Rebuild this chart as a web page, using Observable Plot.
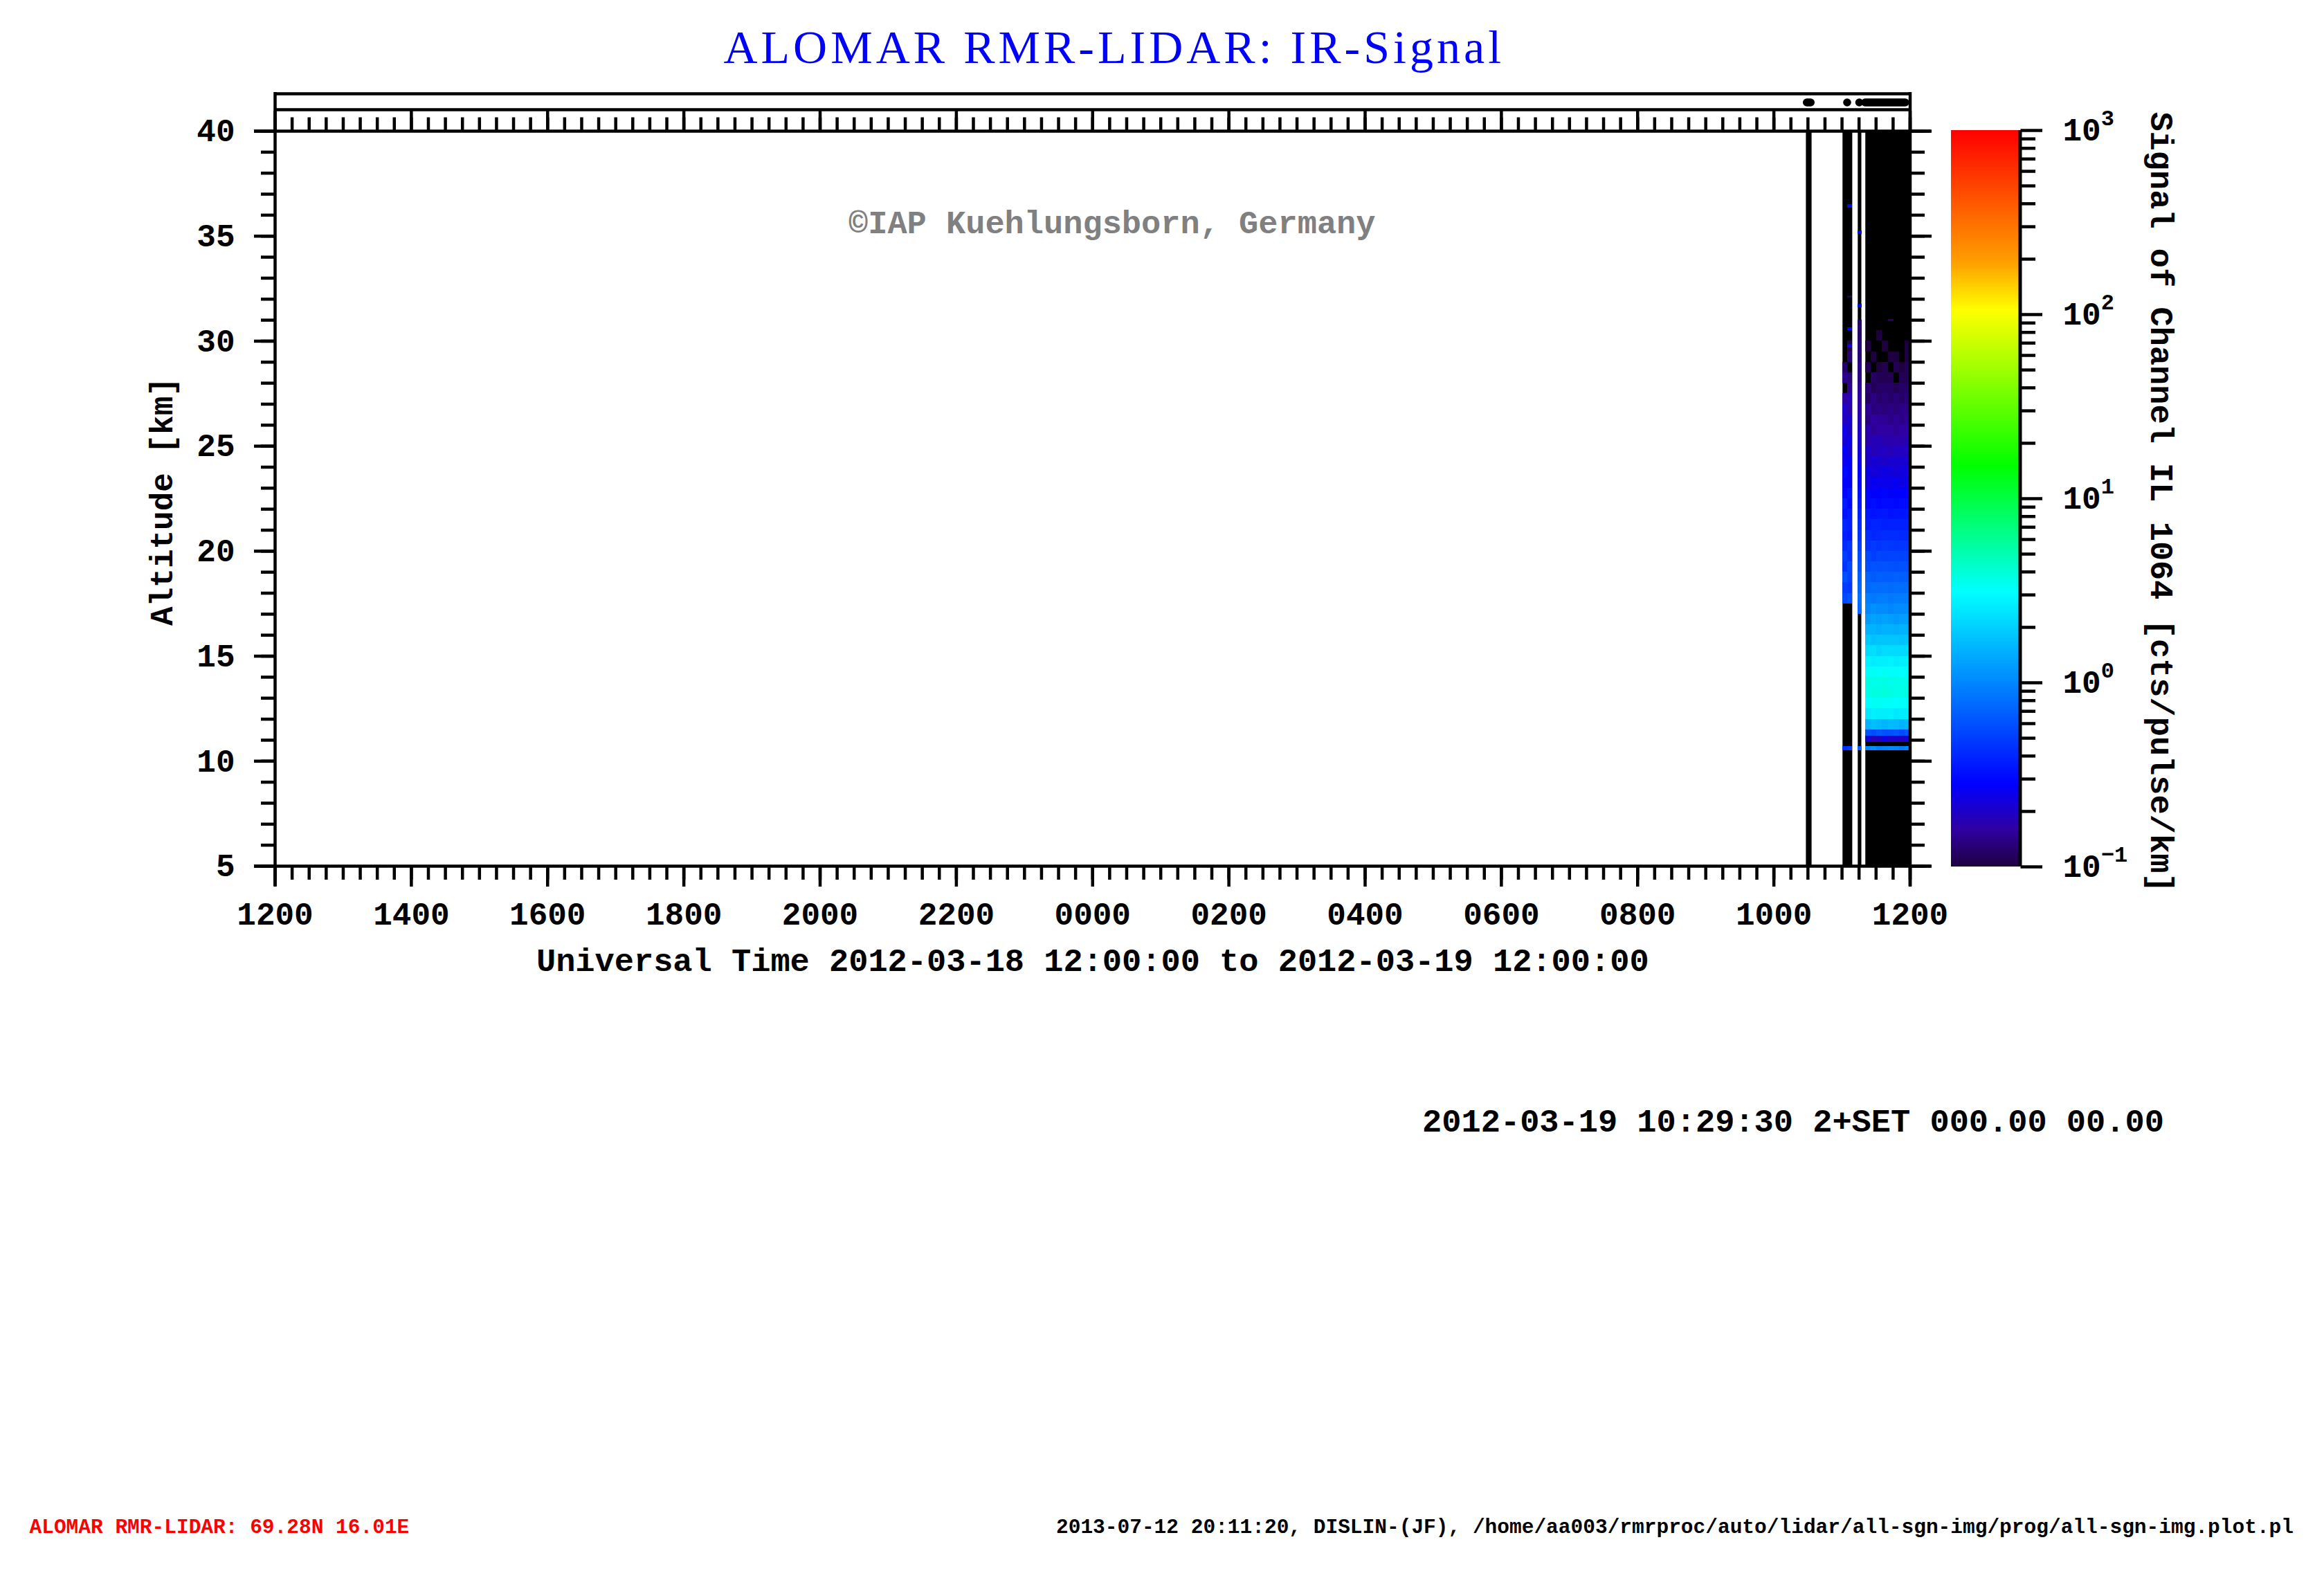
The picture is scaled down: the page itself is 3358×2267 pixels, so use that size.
<!DOCTYPE html>
<html><head><meta charset="utf-8">
<script src="https://cdn.jsdelivr.net/npm/d3@7"></script>
<script src="https://cdn.jsdelivr.net/npm/@observablehq/plot@0.6"></script>
<style>
html,body{margin:0;padding:0;background:#fff;overflow:hidden;}
#wrap{position:relative;width:3358px;height:2267px;overflow:hidden;background:#fff;}
#main{position:absolute;left:0;top:0;}
#cbar{position:absolute;left:2819px;top:148px;}
</style></head><body><div id="wrap"><div id="main"></div><div id="cbar"></div></div>
<script>
// ---------------- data ----------------
const timeStart = "2012-03-18T12:00:00Z", timeEnd = "2012-03-19T12:00:00Z";
const altMin = 5, altMax = 40;
const altTicksMajor = [5, 10, 15, 20, 25, 30, 35, 40];
const altTicksMinor = d3.range(5, 41, 1);

// measurement periods (black background)
const periodFrom = ["2012-03-19T10:28:30Z", "2012-03-19T11:00:45Z", "2012-03-19T11:14:10Z", "2012-03-19T11:20:50Z"];
const periodTo   = ["2012-03-19T10:33:30Z", "2012-03-19T11:09:20Z", "2012-03-19T11:17:20Z", "2012-03-19T12:00:00Z"];

// markers in the top strip
const stripFrom = ["2012-03-19T10:29:20Z", "2012-03-19T11:04:50Z", "2012-03-19T11:15:30Z", "2012-03-19T11:20:40Z"];
const stripTo   = ["2012-03-19T10:32:40Z", "2012-03-19T11:04:50Z", "2012-03-19T11:15:30Z", "2012-03-19T11:56:00Z"];

// altitude bin edges [km]
const altEdges = [10.5, 10.7, 10.9, 11.2, 11.5, 12, 12.5, 13, 13.5, 14, 14.5, 15, 15.5, 16, 16.5, 17, 17.5, 18, 18.5, 19, 19.5, 20,
  20.5, 21, 21.5, 22, 22.5, 23, 23.5, 24, 24.5, 25, 25.5, 26, 26.5, 27, 27.5, 28, 28.5, 29, 29.5, 30, 30.5, 31];

// profiles (time intervals)
const profileFrom = ["2012-03-19T11:00:45Z", "2012-03-19T11:05:00Z", "2012-03-19T11:14:10Z", "2012-03-19T11:20:50Z", "2012-03-19T11:25:45Z",
  "2012-03-19T11:30:40Z", "2012-03-19T11:35:35Z", "2012-03-19T11:40:30Z", "2012-03-19T11:45:25Z", "2012-03-19T11:50:20Z", "2012-03-19T11:55:10Z"];
const profileTo = ["2012-03-19T11:05:00Z", "2012-03-19T11:09:20Z", "2012-03-19T11:17:20Z", "2012-03-19T11:25:45Z", "2012-03-19T11:30:40Z",
  "2012-03-19T11:35:35Z", "2012-03-19T11:40:30Z", "2012-03-19T11:45:25Z", "2012-03-19T11:50:20Z", "2012-03-19T11:55:10Z", "2012-03-19T12:00:00Z"];

// signal [cts/pulse/km] per altitude bin (null = no signal)
const _ = null;
const profB1 = [0.45, _,_,_,_,_, _,_,_,_,_, _,_,_,_,_, 0.55,0.5,0.6,0.45,0.5, 0.42,0.38,0.4,0.33,0.36, 0.3,0.28,0.3,0.25,0.27, 0.22,0.24,0.19,0.2,0.16, _,0.14,0.12,_,_, _,_];
const profB2 = [0.5, _,_,_,_,_, _,_,_,_,_, _,_,_,_,_, 0.6,0.48,0.52,0.55,0.44, 0.46,0.35,0.37,0.36,0.3, 0.33,0.26,0.27,0.28,0.22, 0.25,0.2,0.21,0.17,0.18, 0.15,0.13,_,0.13,0.11, _,_];
const profC1 = [0.7, _,_,_,_,_, _,_,_,_,_, _,_,_,_, 0.75, 0.8,0.72,0.68,0.6,0.56, 0.5,0.45,0.42,0.38,0.35, 0.32,0.3,0.27,0.25,0.23, 0.21,0.2,0.18,0.17,0.16, 0.15,0.14,0.14,0.13,0.13, 0.12,0.12];
const profD1 = [1.0,_,0.22,0.62,1.5, 2.5,3.1,3.6,3.7,3.2, 2.8,2.2,1.85,1.5,1.2, 1.0,0.92,0.76,0.7,0.58, 0.55,0.45,0.43,0.36,0.35, 0.3,0.29,0.24,0.24,0.2, 0.2,0.17,0.17,0.14,0.15, 0.12,0.13,_,0.11,_, 0.1,_,_];
const profD2 = [1.1,_,0.18,0.58,1.7, 2.7,3.3,3.8,3.5,3.3, 2.6,2.3,1.75,1.55,1.3, 1.1,0.88,0.8,0.66,0.62, 0.5,0.49,0.4,0.39,0.33, 0.32,0.27,0.26,0.22,0.22, 0.18,0.18,0.15,0.16,0.13, 0.14,0.11,0.12,_,0.1, _,_,_];
const profD3 = [0.95,_,0.2,0.65,1.6, 2.6,3.3,3.7,3.6,3.1, 2.7,2.1,1.8,1.45,1.25, 1.05,0.9,0.78,0.69,0.6, 0.54,0.46,0.41,0.39,0.34, 0.3,0.28,0.25,0.23,0.21, 0.19,0.18,0.16,0.15,0.14, 0.12,0.12,0.11,0.1,_, _,0.1,_];
const profD4 = [1.0,_,0.24,0.6,1.55, 2.6,3.2,3.9,3.7,3.3, 2.7,2.25,1.8,1.5,1.3, 1.05,0.92,0.8,0.67,0.61, 0.52,0.48,0.43,0.37,0.35, 0.31,0.29,0.25,0.24,0.2, 0.19,0.17,0.16,0.15,0.13, 0.13,0.12,0.11,0.11,_, 0.1,_,_];
const profD5 = [1.05,_,0.2,0.6,1.65, 2.7,3.2,3.7,3.5,3.2, 2.8,2.2,1.8,1.5,1.25, 1.0,0.88,0.77,0.68,0.6, 0.53,0.47,0.42,0.38,0.33, 0.31,0.27,0.25,0.23,0.21, 0.18,0.17,0.16,0.14,0.14, 0.12,0.12,0.11,_,0.1, _,_,_];
const profD6 = [1.0,_,0.21,0.63,1.6, 2.5,3.1,3.6,3.6,3.2, 2.6,2.2,1.8,1.45,1.2, 1.05,0.9,0.79,0.7,0.59, 0.53,0.46,0.42,0.38,0.34, 0.3,0.28,0.26,0.22,0.21, 0.19,0.17,0.15,0.15,0.13, 0.13,0.11,_,0.11,0.1, _,_,_];
const profD7 = [0.9,_,0.19,0.57,1.5, 2.6,3.2,3.6,3.5,3.1, 2.7,2.2,1.75,1.5,1.25, 1.05,0.9,0.78,0.68,0.6, 0.52,0.47,0.41,0.38,0.34, 0.31,0.28,0.24,0.23,0.21, 0.19,0.17,0.16,0.14,0.14, 0.12,0.12,0.11,0.1,_, _,_,_];
const profD8 = [1.0,_,0.22,0.6,1.6, 2.6,3.2,3.7,3.6,3.2, 2.7,2.2,1.8,1.5,1.25, 1.05,0.9,0.78,0.68,0.6, 0.53,0.47,0.42,0.38,0.34, 0.31,0.28,0.25,0.23,0.21, 0.19,0.175,0.16,0.15,0.14, 0.13,0.12,0.11,0.11,0.1, 0.1,_,_];
const profiles = [profB1, profB2, profC1, profD1, profD2, profD3, profD4, profD5, profD6, profD7, profD8];

// isolated returns (profile index, altitude range, value)
const speckleProfile = [1, 1, 1, 1, 2, 2, 7];
const speckleAltLo = [36.35, 32.05, 30.5, 29.7, 35.1, 31.6, 30.95];
const speckleAltHi = [36.5, 32.15, 30.65, 29.85, 35.25, 31.75, 31.05];
const speckleValue = [0.3, 0.11, 0.3, 0.25, 0.3, 0.28, 0.12];

// colour scale
const colorDomain = [0.1, 0.158, 0.28, 3.1, 15, 105, 190, 1000];
const colorRange = ["#1e0040", "#3000a0", "#0000ff", "#00ffff", "#00ff00", "#ffff00", "#ffa000", "#ff0000"];
const colorTicks = [0.1, 1, 10, 100, 1000];

// texts
const titleText = "ALOMAR RMR-LIDAR: IR-Signal";
const copyText = "©IAP Kuehlungsborn, Germany";
const yTitle = "Altitude [km]";
const xTitle = "Universal Time 2012-03-18 12:00:00 to 2012-03-19 12:00:00";
const cTitle = "Signal of Channel IL 1064 [cts/pulse/km]";
const noteText = "2012-03-19 10:29:30 2+SET 000.00 00.00";
const footLeft = "ALOMAR RMR-LIDAR: 69.28N 16.01E";
const footRight = "2013-07-12 20:11:20, DISLIN-(JF), /home/aa003/rmrproc/auto/lidar/all-sgn-img/prog/all-sgn-img.plot.pl";

// ---------------- build ----------------
const T = s => new Date(s);
const t0 = T(timeStart), t1 = T(timeEnd);
const periodRows = periodFrom.map((f, i) => ({t1: T(f), t2: T(periodTo[i])}));
const stripRows = stripFrom.map((f, i) => ({t1: T(f), t2: T(stripTo[i])}));
const cellRows = [];
profiles.forEach((vals, p) => vals.forEach((v, i) => {
  if (v != null) cellRows.push({t1: T(profileFrom[p]), t2: T(profileTo[p]), a1: altEdges[i], a2: altEdges[i + 1], v});
}));
speckleProfile.forEach((p, k) => cellRows.push({t1: T(profileFrom[p]), t2: T(profileTo[p]), a1: speckleAltLo[k], a2: speckleAltHi[k], v: speckleValue[k]}));

const colorOpts = {type: "log", domain: colorDomain, range: colorRange, interpolate: "rgb", clamp: true};
const LW = 4.5;
const mono = "'Liberation Mono', 'DejaVu Sans Mono', monospace";
const baseStyle = {fontFamily: mono, fontSize: "46px", fontWeight: "bold", color: "black", background: "white", overflow: "visible"};
const blank = () => "";

const main = Plot.plot({
  width: 3358, height: 2267,
  marginLeft: 397, marginRight: 598.5, marginTop: 189, marginBottom: 1016,
  style: baseStyle,
  x: {type: "utc", domain: [t0, t1], label: null},
  y: {domain: [altMin, altMax], label: null},
  color: colorOpts,
  marks: [
    Plot.rect(periodRows, {x1: "t1", x2: "t2", y1: altMin, y2: altMax, fill: "black"}),
    Plot.rect(cellRows, {x1: "t1", x2: "t2", y1: "a1", y2: "a2", fill: "v", shapeRendering: "crispEdges"}),
    // axes
    Plot.axisX({anchor: "bottom", ticks: d3.utcMinute.every(15), tickSize: 20, tickFormat: blank, label: null, strokeWidth: LW}),
    Plot.axisX({anchor: "bottom", ticks: d3.utcHour.every(2), tickSize: 30, tickPadding: 22, tickFormat: d3.utcFormat("%H%M"), label: null, strokeWidth: LW, fontSize: 46}),
    Plot.axisX({anchor: "top", ticks: d3.utcMinute.every(15), tickSize: 20.5, tickFormat: blank, label: null, strokeWidth: LW}),
    Plot.axisX({anchor: "top", ticks: d3.utcHour.every(2), tickSize: 30, tickFormat: blank, label: null, strokeWidth: LW}),
    Plot.axisY({anchor: "left", ticks: altTicksMinor, tickSize: 20, tickFormat: blank, label: null, strokeWidth: LW}),
    Plot.axisY({anchor: "left", ticks: altTicksMajor, tickSize: 30, tickPadding: 28, label: null, strokeWidth: LW, fontSize: 46}),
    Plot.axisY({anchor: "right", ticks: altTicksMinor, tickSize: 20.5, tickFormat: blank, label: null, strokeWidth: LW}),
    Plot.axisY({anchor: "right", ticks: altTicksMajor, tickSize: 30.5, tickFormat: blank, label: null, strokeWidth: LW}),
    // frame lines
    Plot.ruleY([altMin, altMax], {x1: () => t0, x2: () => t1, stroke: "black", strokeWidth: LW, insetLeft: -30, insetRight: -30}),
    Plot.ruleX([t0, t1], {y1: altMax, y2: altMin, stroke: "black", strokeWidth: LW, insetTop: -56, insetBottom: -29}),
    // top strip
    Plot.ruleY([altMax], {x1: () => t0, x2: () => t1, dy: -31, stroke: "black", strokeWidth: LW}),
    Plot.ruleY([altMax], {x1: () => t0, x2: () => t1, dy: -54, stroke: "black", strokeWidth: LW}),
    Plot.ruleY(stripRows, {x1: "t1", x2: "t2", y: () => altMax, dy: -41.5, stroke: "black", strokeWidth: 11.6, strokeLinecap: "round"}),
    // texts
    Plot.text([titleText], {frameAnchor: "top", lineAnchor: "middle", dx: 31, dy: -120, fontFamily: "'Liberation Serif', 'Times New Roman', serif", fontSize: 68, fontWeight: "normal", fill: "#0000ff"}),
    Plot.text([copyText], {frameAnchor: "top", lineAnchor: "middle", dx: 28, dy: 132, fontSize: 47, fill: "#808080"}),
    Plot.text([yTitle], {frameAnchor: "left", textAnchor: "middle", lineAnchor: "middle", dx: -163.5, dy: 4, rotate: -90, fontSize: 46}),
    Plot.text([xTitle], {frameAnchor: "bottom", lineAnchor: "middle", dy: 136, fontSize: 47}),
    Plot.text([noteText], {frameAnchor: "bottom-right", textAnchor: "middle", lineAnchor: "middle", dx: -169, dy: 368, fontSize: 47}),
    Plot.text([footLeft], {frameAnchor: "bottom-left", textAnchor: "start", lineAnchor: "middle", dx: -355, dy: 954, fontSize: 29.5, fill: "#ff0000"}),
    Plot.text([footRight], {frameAnchor: "bottom-right", textAnchor: "end", lineAnchor: "middle", dx: 554, dy: 954, fontSize: 29.5})
  ]
});
main.querySelectorAll("text").forEach(t => {
  if (t.textContent === titleText) t.style.letterSpacing = "5px";
});
document.getElementById("main").appendChild(main);

// ---------------- colour bar ----------------
const nSlices = 400;
const cbEdges = d3.range(nSlices + 1).map(i => 10 ** (-1 + 4 * i / nSlices));
const cbRows = d3.range(nSlices).map(i => ({lo: cbEdges[i], hi: cbEdges[i + 1], v: Math.sqrt(cbEdges[i] * cbEdges[i + 1])}));
const cbMinor = [-1, 0, 1, 2].flatMap(e => d3.range(2, 10).map(m => m * 10 ** e));

const cbar = Plot.plot({
  width: 400, height: 1144,
  marginLeft: 0, marginRight: 300.5, marginTop: 40, marginBottom: 40,
  style: baseStyle,
  x: {domain: [0, 1], axis: null},
  y: {type: "log", domain: [0.1, 1000], label: null},
  color: colorOpts,
  marks: [
    Plot.rect(cbRows, {x1: 0, x2: 1, y1: "lo", y2: "hi", fill: "v", shapeRendering: "crispEdges"}),
    Plot.axisY({anchor: "right", ticks: cbMinor, tickSize: 21.5, tickFormat: blank, label: null, strokeWidth: LW}),
    Plot.axisY({anchor: "right", ticks: colorTicks, tickSize: 31.5, tickPadding: 30, label: null, strokeWidth: LW, fontSize: 46,
      tickFormat: d => "10^" + String(Math.round(Math.log10(d))).replace("-", "\u2212")}),
    Plot.ruleX([1], {y1: 1000, y2: 0.1, stroke: "black", strokeWidth: 5}),
    Plot.text([cTitle], {frameAnchor: "right", textAnchor: "middle", lineAnchor: "middle", dx: 204.5, dy: 5, rotate: 90, fontSize: 47})
  ]
});
cbar.querySelectorAll("text").forEach(t => {
  const s = t.textContent;
  if (/^10\^/.test(s)) {
    const parts = s.split("^");
    t.textContent = parts[0];
    const ts = document.createElementNS("http://www.w3.org/2000/svg", "tspan");
    ts.setAttribute("dy", "-0.7em");
    ts.setAttribute("font-size", "32");
    ts.textContent = parts[1];
    t.appendChild(ts);
  }
});
document.getElementById("cbar").appendChild(cbar);
</script></body></html>
